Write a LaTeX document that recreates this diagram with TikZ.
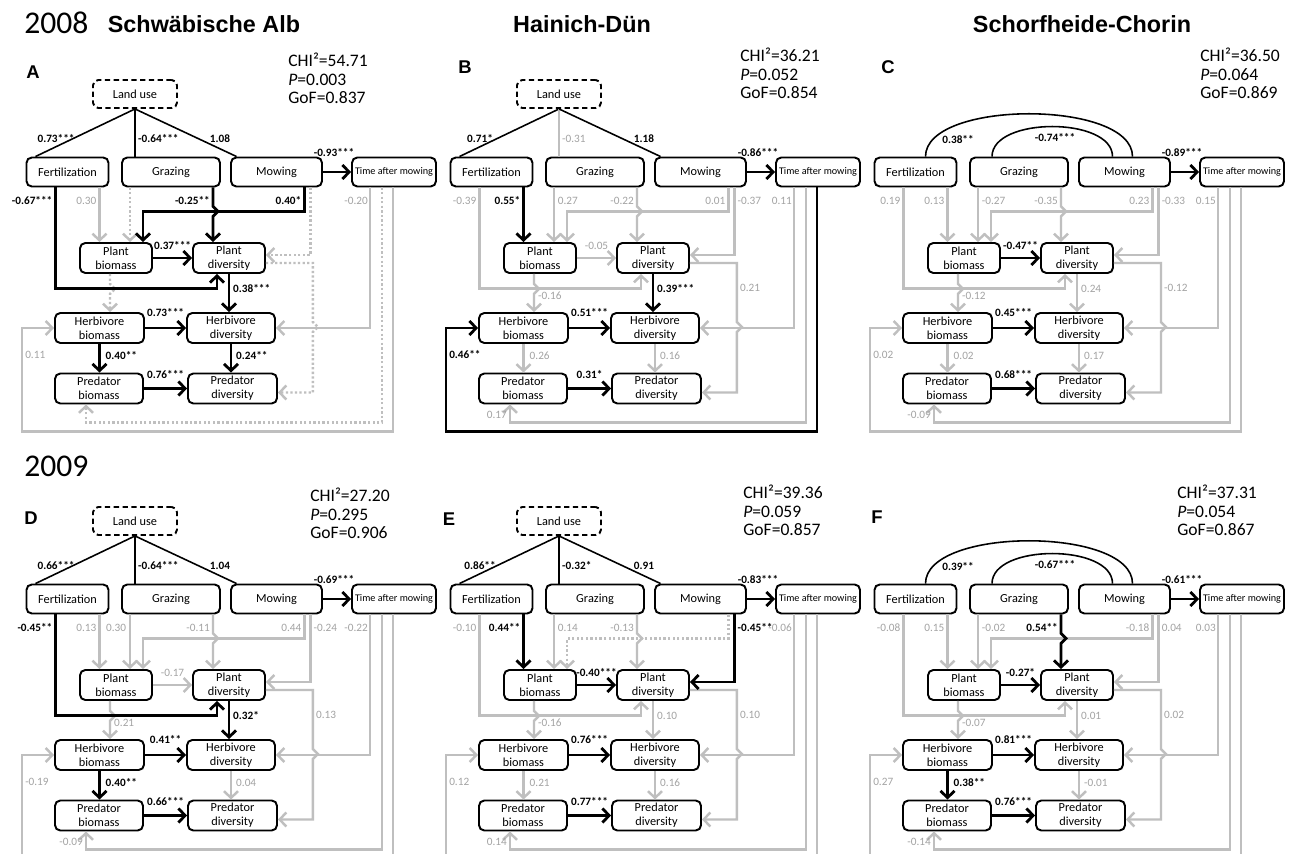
\documentclass[tikz,border=0pt]{standalone}
\usepackage{fontspec}
\setmainfont{Carlito}
\newfontfamily\headfont{Liberation Sans}
\usetikzlibrary{arrows.meta,calc}

\tikzset{
  box/.style={draw, rounded corners=3pt, line width=1.1pt, align=center, inner sep=1pt,
    font=\fontsize{7}{7.8}\selectfont, minimum height=0.6cm},
  lubox/.style={box, dash pattern=on 3pt off 2pt, minimum width=1.68cm, minimum height=0.56cm},
  blkarr/.style={line width=1.6pt, -{Straight Barb[length=3.8pt,width=8pt]}},
  gryarr/.style={line width=1.4pt, draw=black!25, -{Straight Barb[length=3.8pt,width=8pt]}},
  dotarr/.style={gryarr, dash pattern=on 1.3pt off 1.3pt},
  blkline/.style={line width=0.9pt},
  gryline/.style={line width=0.9pt, draw=black!25},
  blkarrlab/.style={font=\fontsize{6.4}{7}\selectfont\bfseries, inner sep=0.5pt},
  gryarrlab/.style={font=\fontsize{6.4}{7}\selectfont, text=black!36, inner sep=0.5pt},
  dotarrlab/.style={gryarrlab},
  blklinelab/.style={blkarrlab},
  grylinelab/.style={gryarrlab},
  grpbpos/.style={anchor=west, xshift=1.5pt},
  stats/.style={font=\fontsize{10}{10.4}\selectfont, align=left, anchor=north west, inner sep=0pt},
  letter/.style={font=\headfont\bfseries\fontsize{10.5}{12}\selectfont, inner sep=0pt},
  year/.style={font=\fontsize{18}{20}\selectfont, inner sep=0pt, anchor=west},
  site/.style={font=\headfont\bfseries\fontsize{13.3}{15}\selectfont, inner sep=0pt},
}

% style and label of one path of the current panel
\newcommand\semedge[3]{\tikzset{#1/.style={#2},#1lab/.style={#2lab}}%
  \expandafter\def\csname lab#1\endcsname{#3}}
\newcommand\edgelab[1]{\csname lab#1\endcsname}

% one panel: xoff, yoff, letter, letter pos, stats pos, chi, p, gof
\newcommand\sempanel[8]{%
\begin{scope}[shift={(#1,#2)}, name prefix=#3-]
  \node[letter] (let) at (#4) {#3};
  \node[stats] (stat) at (#5) {CHI²=#6\\\textit{P}=#7\\GoF=#8};
  % boxes
  \node[box, minimum width=1.64cm, minimum height=0.58cm] (fe) at (67.5,172) {Fertilization};
  \node[box, minimum width=1.96cm, minimum height=0.58cm] (gr) at (171,172) {Grazing};
  \node[box, minimum width=1.82cm, minimum height=0.58cm] (mo) at (276.5,172) {Mowing};
  \node[box, minimum width=1.68cm, minimum height=0.58cm, font=\fontsize{5.8}{6.5}\selectfont] (ti) at (394,172) {Time after mowing};
  \node[box, minimum width=1.44cm] (pb) at (116,258) {Plant\\biomass};
  \node[box, minimum width=1.44cm] (pd) at (229,258) {Plant\\diversity};
  \node[box, minimum width=1.78cm] (hb) at (99.5,328) {Herbivore\\biomass};
  \node[box, minimum width=1.76cm] (hd) at (231,328) {Herbivore\\diversity};
  \node[box, minimum width=1.76cm] (rb) at (99,388.5) {Predator\\biomass};
  \node[box, minimum width=1.78cm] (rd) at (232.5,388.5) {Predator\\diversity};
  % time after mowing
  \draw[tihd] (ti.south) ++(-24,0) coordinate (t1) |- (hd.east);
  \draw[tirb] (ti.south) ++(-12,0) coordinate (t2) -- ++(0,235) -| ($(rb.south)+(-13,0)$);
  \draw[tihb] (ti.south) ++(-1,0) coordinate (t3) -- ++(0,244) -- ++(-371,0) |- (hb.west);
  % plant level
  \draw[pbhb] (pb.south) ++(-6,0) coordinate (p1) -- ++(0,10) -- ++(5,5) -- ++(-5,5) -- (p1 |- hb.north);
  \draw[pdrd] (pd.east) ++(0,5) coordinate (p2) -- ++(47,0) -- ++(0,59) -- ++(5,5) -- ++(-5,5) |- ($(rd.east)+(0,4)$);
  \draw[fepb] (fe.south) ++(32,0) coordinate (f2) -- (f2 |- pb.north);
  \draw[grpb] (gr.south) ++(-41,0) coordinate (g1) -- (g1 |- pb.north);
  \draw[mopd] (mo.south) ++(34,0) coordinate (m2) |- ($(pd.east)+(0,-3)$);
  \draw[mopb] (mo.south) ++(28,0) coordinate (m1) -- ++(0,24) -| ($(pb.north)+(27,0)$);
  \draw[grpd] (gr.south) ++(42,0) coordinate (g2) -- ++(0,19) -- ++(5,5) -- ++(-5,5) -- (g2 |- pd.north);
  \draw[fepd] (fe.south) ++(-12,0) coordinate (f1) -- ++(0,101) -| ($(pd.south)+(-12,0)$);
  \draw[moti] (mo.east) -- (ti.west);
  \draw[pbpd] (pb.east) -- (pd.west);
  \draw[pdhd] (pd.south) -- (pd.south |- hd.north);
  \draw[hbhd] (hb.east) -- (hb.east -| hd.west);
  \draw[hbrb] (hb.south) -- (hb.south |- rb.north);
  \draw[hdrd] (hd.south) -- (hd.south |- rd.north);
  \draw[rbrd] (rb.east) -- (rb.east -| rd.west);
  % path labels
  \node[motilab] at ($(mo.east)!0.5!(ti.west)+(-3,-19)$) {\edgelab{moti}};
  \node[fepdlab, anchor=east] at ($(f1)+(-2,13)$) {\edgelab{fepd}};
  \node[fepblab, anchor=east] at ($(f2)+(-2,13)$) {\edgelab{fepb}};
  \node[grpblab, grpbpos] at ($(g1)+(0,13)$) {\edgelab{grpb}};
  \node[grpdlab, anchor=east] at ($(g2)+(-2,13)$) {\edgelab{grpd}};
  \node[mopblab, anchor=east] at ($(m1)+(-2,13)$) {\edgelab{mopb}};
  \node[mopdlab, anchor=west] at ($(m2)+(2,13)$) {\edgelab{mopd}};
  \node[tihdlab, anchor=east] at ($(t1)+(-1,13)$) {\edgelab{tihd}};
  \node[tirblab, anchor=east] at ($(rb.south)+(-15,10)$) {\edgelab{tirb}};
  \node[tihblab, anchor=west] at ($(hb.west)+(-30,27)$) {\edgelab{tihb}};
  \node[pbhblab, anchor=west] at ($(p1)+(3,22)$) {\edgelab{pbhb}};
  \node[pbpdlab] at ($(pb.east)!0.5!(pd.west)+(0,-12)$) {\edgelab{pbpd}};
  \node[pdhdlab, anchor=west] at ($(pd.south)+(3,15)$) {\edgelab{pdhd}};
  \node[pdrdlab, anchor=west] at ($(p2)+(49,25)$) {\edgelab{pdrd}};
  \node[hbhdlab] at ($(hb.east)!0.5!(hd.west)+(0,-15)$) {\edgelab{hbhd}};
  \node[hbrblab, anchor=west] at ($(hb.south)+(5,12)$) {\edgelab{hbrb}};
  \node[hdrdlab, anchor=west] at ($(hd.south)+(4,12)$) {\edgelab{hdrd}};
  \node[rbrdlab] at ($(rb.east)!0.5!(rd.west)+(0,-14)$) {\edgelab{rbrd}};
\end{scope}}

% land use box above a panel
\newcommand\landuse[3]{%
\begin{scope}[shift={(#1,#2)}, name prefix=#3-]
  \node[lubox] (lu) at (135,94) {Land use};
  \draw[lufe] (lu.south) -- ($(fe.north)+(-32,0)$);
  \draw[lugr] (lu.south) -- (lu.south |- gr.north);
  \draw[lumo] (lu.south) -- ($(mo.north)+(-40,0)$);
  \node[lufelab] at ($(lu.south)+(-79,30)$) {\edgelab{lufe}};
  \node[lugrlab, anchor=west] at ($(lu.south)+(2,30)$) {\edgelab{lugr}};
  \node[lumolab] at ($(lu.south)+(85,30)$) {\edgelab{lumo}};
\end{scope}}

% correlation arcs instead of land use
\newcommand\mgmtarcs[5]{%
\begin{scope}[shift={(#1,#2)}, name prefix=#3-]
  \draw[blkline] ($(fe.north)+(10,0)$) .. controls +(0,-57) and +(0,-57) .. ($(mo.north)+(8,0)$);
  \draw[blkline] ($(gr.north)+(-27,0)$) .. controls +(0,-40) and +(0,-40) .. ($(mo.north)+(-12,0)$);
  \node[blkarrlab] at (110,140) {#4};
  \node[blkarrlab] at (207,138) {#5};
\end{scope}}

\begin{document}
\begin{tikzpicture}[x=0.02cm, y=-0.02cm]
\useasboundingbox (0,0) rectangle (1290,854);
\fill[white] (0,0) rectangle (1290,854);
\clip (0,0) rectangle (1290,854);

\node[year] (y08) at (24,23) {2008};
\node[site] (s1) at (204,24) {Schwäbische Alb};
\node[site] (s2) at (582,24) {Hainich-Dün};
\node[site] (s3) at (1082,24) {Schorfheide-Chorin};
\node[year] (y09) at (24,466) {2009};

% === A ===
\semedge{lufe}{blkline}{0.73***}\semedge{lugr}{blkline}{-0.64***}\semedge{lumo}{blkline}{1.08}
\semedge{moti}{blkarr}{-0.93***}
\semedge{fepd}{blkarr}{-0.67***}\semedge{fepb}{gryarr}{0.30}\semedge{grpb}{dotarr}{}\semedge{grpd}{blkarr}{-0.25**}
\semedge{mopb}{blkarr}{0.40*}\semedge{mopd}{dotarr}{}\semedge{tihd}{gryarr}{-0.20}
\semedge{tirb}{dotarr}{}\semedge{tihb}{gryarr}{0.11}
\semedge{pbhb}{dotarr}{}\semedge{pbpd}{blkarr}{0.37***}\semedge{pdhd}{blkarr}{0.38***}\semedge{pdrd}{dotarr}{}
\semedge{hbhd}{blkarr}{0.73***}\semedge{hbrb}{blkarr}{0.40**}\semedge{hdrd}{blkarr}{0.24**}\semedge{rbrd}{blkarr}{0.76***}
\sempanel{0}{0}{A}{33,72}{288,53}{54.71}{0.003}{0.837}
\landuse{0}{0}{A}

% === B ===
\semedge{lufe}{blkline}{0.71*}\semedge{lugr}{gryline}{-0.31}\semedge{lumo}{blkline}{1.18}
\semedge{moti}{blkarr}{-0.86***}
\semedge{fepd}{gryarr}{-0.39}\semedge{fepb}{blkarr}{0.55*}\semedge{grpb}{gryarr}{0.27}\semedge{grpd}{gryarr}{-0.22}
\semedge{mopb}{gryarr}{0.01}\semedge{mopd}{gryarr}{-0.37}\semedge{tihd}{gryarr}{0.11}
\semedge{tirb}{gryarr}{0.17}\semedge{tihb}{blkarr}{0.46**}
\semedge{pbhb}{gryarr}{-0.16}\semedge{pbpd}{gryarr}{-0.05}\semedge{pdhd}{blkarr}{0.39***}\semedge{pdrd}{gryarr}{0.21}
\semedge{hbhd}{blkarr}{0.51***}\semedge{hbrb}{gryarr}{0.26}\semedge{hdrd}{gryarr}{0.16}\semedge{rbrd}{blkarr}{0.31*}
\sempanel{424}{0}{B}{41,67}{316,48}{36.21}{0.052}{0.854}
\landuse{424}{0}{B}

% === C ===
\semedge{moti}{blkarr}{-0.89***}
\semedge{fepd}{gryarr}{0.19}\semedge{fepb}{gryarr}{0.13}\semedge{grpb}{gryarr}{-0.27}\semedge{grpd}{gryarr}{-0.35}
\semedge{mopb}{gryarr}{0.23}\semedge{mopd}{gryarr}{-0.33}\semedge{tihd}{gryarr}{0.15}
\semedge{tirb}{gryarr}{-0.09}\semedge{tihb}{gryarr}{0.02}
\semedge{pbhb}{gryarr}{-0.12}\semedge{pbpd}{blkarr}{-0.47**}\semedge{pdhd}{gryarr}{0.24}\semedge{pdrd}{gryarr}{-0.12}
\semedge{hbhd}{blkarr}{0.45***}\semedge{hbrb}{gryarr}{0.02}\semedge{hdrd}{gryarr}{0.17}\semedge{rbrd}{blkarr}{0.68***}
\sempanel{848}{0}{C}{40,67}{352,48}{36.50}{0.064}{0.869}
\mgmtarcs{848}{0}{C}{0.38**}{-0.74***}

% === D ===
\semedge{lufe}{blkline}{0.66***}\semedge{lugr}{blkline}{-0.64***}\semedge{lumo}{blkline}{1.04}
\semedge{moti}{blkarr}{-0.69***}
\semedge{fepd}{blkarr}{-0.45**}\semedge{fepb}{gryarr}{0.13}\semedge{grpb}{gryarr}{0.30}\semedge{grpd}{gryarr}{-0.11}
\semedge{mopb}{gryarr}{0.44}\semedge{mopd}{gryarr}{-0.24}\semedge{tihd}{gryarr}{-0.22}
\semedge{tirb}{gryarr}{-0.09}\semedge{tihb}{gryarr}{-0.19}
\semedge{pbhb}{gryarr}{0.21}\semedge{pbpd}{gryarr}{-0.17}\semedge{pdhd}{blkarr}{0.32*}\semedge{pdrd}{gryarr}{0.13}
\semedge{hbhd}{blkarr}{0.41**}\semedge{hbrb}{blkarr}{0.40**}\semedge{hdrd}{gryarr}{0.04}\semedge{rbrd}{blkarr}{0.66***}
\tikzset{grpbpos/.style={anchor=east, xshift=-1.5pt}}
\sempanel{0}{427}{D}{31,91}{310,61}{27.20}{0.295}{0.906}
\landuse{0}{427}{D}
\tikzset{grpbpos/.style={anchor=west, xshift=1.5pt}}

% === E ===
\semedge{lufe}{blkline}{0.86**}\semedge{lugr}{blkline}{-0.32*}\semedge{lumo}{blkline}{0.91}
\semedge{moti}{blkarr}{-0.83***}
\semedge{fepd}{gryarr}{-0.10}\semedge{fepb}{blkarr}{0.44**}\semedge{grpb}{gryarr}{0.14}\semedge{grpd}{gryarr}{-0.13}
\semedge{mopb}{dotarr}{}\semedge{mopd}{blkarr}{-0.45**}\semedge{tihd}{gryarr}{-0.06}
\semedge{tirb}{gryarr}{0.14}\semedge{tihb}{gryarr}{0.12}
\semedge{pbhb}{gryarr}{-0.16}\semedge{pbpd}{blkarr}{-0.40***}\semedge{pdhd}{gryarr}{0.10}\semedge{pdrd}{gryarr}{0.10}
\semedge{hbhd}{blkarr}{0.76***}\semedge{hbrb}{gryarr}{0.21}\semedge{hdrd}{gryarr}{0.16}\semedge{rbrd}{blkarr}{0.77***}
\sempanel{424}{427}{E}{25,92}{319,58}{39.36}{0.059}{0.857}
\landuse{424}{427}{E}

% === F ===
\semedge{moti}{blkarr}{-0.61***}
\semedge{fepd}{gryarr}{-0.08}\semedge{fepb}{gryarr}{0.15}\semedge{grpb}{gryarr}{-0.02}\semedge{grpd}{blkarr}{0.54**}
\semedge{mopb}{gryarr}{-0.18}\semedge{mopd}{gryarr}{0.04}\semedge{tihd}{gryarr}{0.03}
\semedge{tirb}{gryarr}{-0.14}\semedge{tihb}{gryarr}{0.27}
\semedge{pbhb}{gryarr}{-0.07}\semedge{pbpd}{blkarr}{-0.27*}\semedge{pdhd}{gryarr}{0.01}\semedge{pdrd}{gryarr}{0.02}
\semedge{hbhd}{blkarr}{0.81***}\semedge{hbrb}{blkarr}{0.38**}\semedge{hdrd}{gryarr}{-0.01}\semedge{rbrd}{blkarr}{0.76***}
\sempanel{848}{427}{F}{29,90}{329,58}{37.31}{0.054}{0.867}
\mgmtarcs{848}{427}{F}{0.39**}{-0.67***}

\end{tikzpicture}
\end{document}
